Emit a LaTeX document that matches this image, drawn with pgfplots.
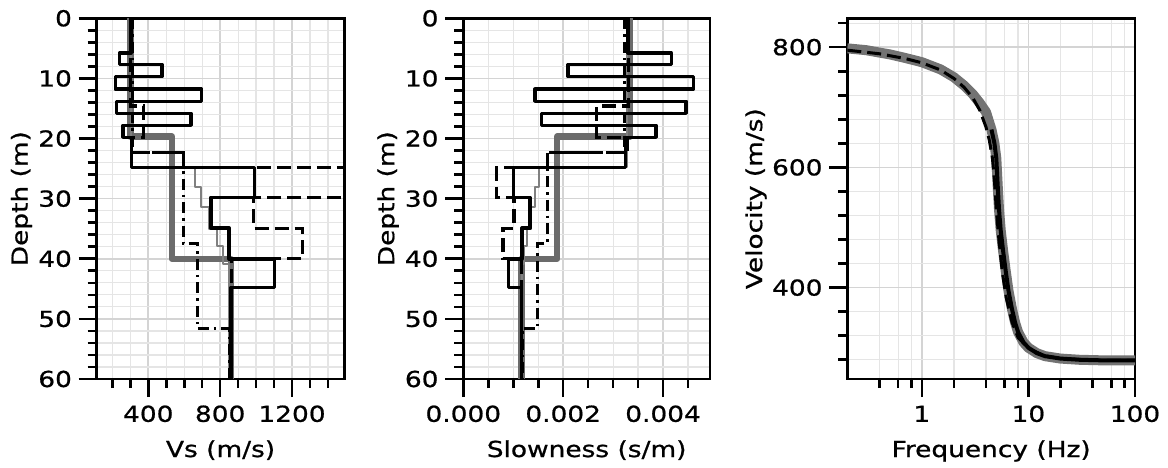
\documentclass[border=0pt]{standalone}
\usepackage{pgfplots}
\pgfplotsset{compat=1.18}
\usepackage{fontspec}
\setmainfont{DejaVu Sans}[FakeStretch=1.2, FakeBold=0.8]
\begin{document}
\begin{tikzpicture}
\useasboundingbox (0pt,0pt) rectangle (1168pt,467pt);
\pgfplotsset{
 common/.style={
  scale only axis, anchor=south west,
  height=360.7pt,
  font=\fontsize{22}{26}\selectfont,
  tick label style={font=\fontsize{22}{26}\selectfont},
  xticklabel style={anchor=base, inner sep=0pt, yshift=-24.8pt},
  yticklabel style={anchor=east, inner sep=0pt, xshift=-6.6pt},
  axis line style={line width=2.8pt},
  tick align=outside, tick pos=left,
  major tick length=18pt, minor tick length=9pt,
  tick style={black, line width=2.6pt},
  grid=both,
  major grid style={line width=1.6pt, color=black!17},
  minor grid style={line width=1.2pt, color=black!10},
  every axis x label/.style={at={(axis description cs:0.5,0)}, anchor=base, yshift=-78pt},
  scaled x ticks=false, scaled y ticks=false,
 },
 depth/.style={y dir=reverse, ymin=0, ymax=60, ytick={0,10,20,30,40,50,60}, yticklabels={0,10,20,30,40,50,60},
  minor ytick={2,4,6,8,12,14,16,18,22,24,26,28,32,34,36,38,42,44,46,48,52,54,56,58}, ylabel={Depth (m)}},
 gthick/.style={color=black!58, line width=6.5pt, line join=round},
 gthin/.style={color=black!50, line width=2pt, line join=round},
 blk/.style={black, line width=3.5pt, line join=round},
 dsh/.style={black, line width=3.2pt, dash pattern=on 14pt off 6pt},
 dshdot/.style={black, line width=3pt, dash pattern=on 11pt off 5pt on 2.5pt off 5pt},
}
% ---------------- Vs panel ----------------
\begin{axis}[common, depth, at={(96.7pt,88pt)}, width=247.8pt,
  xmin=113, xmax=1492, xtick={400,800,1200}, xticklabels={400,800,1200},
  minor xtick={200,300,500,600,700,900,1000,1100,1300,1400},
  xlabel={Vs (m/s)},
  every axis y label/.style={at={(axis description cs:-0.3035,0.5)}, rotate=90, anchor=center}]
\addplot[gthick] coordinates {(300,0)(300,19.7)(532,19.7)(532,40)(860,40)(860,60)};
\addplot[gthin] coordinates {(305,0)(305,24.8)(660,24.8)(660,28.1)(695,28.1)(695,31.4)(736,31.4)(736,35)(785,35)(785,37.8)(817,37.8)(817,40.8)(850,40.8)(850,60)};
\addplot[dshdot] coordinates {(310,0)(310,22.3)(595,22.3)(595,37.5)(672,37.5)(672,51.6)(850,51.6)(850,60)};
\addplot[dsh] coordinates {(303,0)(303,14.6)(374,14.6)(374,19.8)(305,19.8)(305,22.3)(595,22.3)(595,24.8)(1490,24.8)(1490,29.8)(985,29.8)(985,34.9)(1258,34.9)(1258,40)(862,40)(862,60)};
\addplot[blk] coordinates {(303,0)(303,5.8)(240,5.8)(240,7.7)(476,7.7)(476,9.7)(217,9.7)(217,11.8)(697,11.8)(697,13.8)(224,13.8)(224,15.8)(638,15.8)(638,17.8)(259,17.8)(259,19.8)(308,19.8)(308,24.8)(990,24.8)(990,29.8)(748,29.8)(748,34.9)(850,34.9)(850,40)(1103,40)(1103,44.8)(860,44.8)(860,60)};
\end{axis}
% ---------------- Slowness panel (x in ms/m, labelled in s/m) ----------------
\begin{axis}[common, depth, at={(463.3pt,88pt)}, width=246.7pt,
  xmin=0, xmax=4.94, xtick={0,2,4}, xticklabels={0.000,0.002,0.004},
  minor xtick={0.5,1,1.5,2.5,3,3.5,4.5},
  xlabel={Slowness (s/m)},
  every axis y label/.style={at={(axis description cs:-0.3048,0.5)}, rotate=90, anchor=center}]
\addplot[gthick] coordinates {(3.333,0)(3.333,19.7)(1.880,19.7)(1.880,40)(1.163,40)(1.163,60)};
\addplot[gthin] coordinates {(3.279,0)(3.279,24.8)(1.515,24.8)(1.515,28.1)(1.439,28.1)(1.439,31.4)(1.359,31.4)(1.359,35)(1.274,35)(1.274,37.8)(1.224,37.8)(1.224,40.8)(1.176,40.8)(1.176,60)};
\addplot[dshdot] coordinates {(3.226,0)(3.226,22.3)(1.681,22.3)(1.681,37.5)(1.488,37.5)(1.488,51.6)(1.176,51.6)(1.176,60)};
\addplot[dsh] coordinates {(3.300,0)(3.300,14.6)(2.674,14.6)(2.674,19.8)(3.279,19.8)(3.279,22.3)(1.681,22.3)(1.681,24.8)(0.671,24.8)(0.671,29.8)(1.015,29.8)(1.015,34.9)(0.795,34.9)(0.795,40)(1.160,40)(1.160,60)};
\addplot[blk] coordinates {(3.300,0)(3.300,5.8)(4.167,5.8)(4.167,7.7)(2.101,7.7)(2.101,9.7)(4.608,9.7)(4.608,11.8)(1.435,11.8)(1.435,13.8)(4.464,13.8)(4.464,15.8)(1.567,15.8)(1.567,17.8)(3.861,17.8)(3.861,19.8)(3.247,19.8)(3.247,24.8)(1.010,24.8)(1.010,29.8)(1.337,29.8)(1.337,34.9)(1.176,34.9)(1.176,40)(0.907,40)(0.907,44.8)(1.163,44.8)(1.163,60)};
\end{axis}
% ---------------- Dispersion panel ----------------
\begin{axis}[common, at={(847.3pt,88pt)}, width=287.7pt,
  xmode=log, xmin=0.2, xmax=100, ymin=248, ymax=848,
  xtick={1,10,100}, xticklabels={1,10,100},
  minor xtick={0.4,0.6,0.8,2,4,6,8,20,40,60,80},
  ytick={400,600,800}, yticklabels={400,600,800},
  minor ytick={280,320,360,440,480,520,560,640,680,720,760,840},
  xlabel={Frequency (Hz)}, ylabel={Velocity (m/s)},
  every axis y label/.style={at={(axis description cs:-0.3173,0.5)}, rotate=90, anchor=center}]
\addplot[color=black!55, line width=10pt, line join=round] coordinates {(0.2,798)(0.3,795)(0.4,791)(0.5,788)(0.7,782)(1,775)(1.5,763)(2,750)(2.5,736)(3,722)(3.5,707)(4,692)(4.5,663)(4.8,640)(5,615)(5.15,570)(5.3,530)(5.5,495)(5.8,460)(6.1,430)(6.5,395)(7,365)(7.5,342)(8,326)(9,309)(10,300)(12,291)(14.3,286)(20,282)(30,280)(50,279)(100,279)};
\addplot[dsh, line width=3pt] coordinates {(0.2,795)(0.4,789)(0.7,781)(1,774)(1.5,762)(2,748)(2.5,733)(3,716)(3.5,695)(4,667)(4.3,645)(4.6,615)(4.8,578)(5,530)(5.3,478)(5.7,425)(6.2,383)(7,343)(8,317)(10,299)(14,287)(20,282)(50,279)(100,279)};
\addplot[black, line width=4pt, line join=round] coordinates {(4.5,663)(4.8,640)(5,615)(5.15,570)(5.3,530)(5.5,495)(5.8,460)(6.1,430)(6.5,395)(7,365)(7.5,342)(8,326)(9,309)(10,300)(12,291)(14.3,286)(20,282)(30,280)(50,279)(100,279)};
\end{axis}
\end{tikzpicture}
\end{document}
